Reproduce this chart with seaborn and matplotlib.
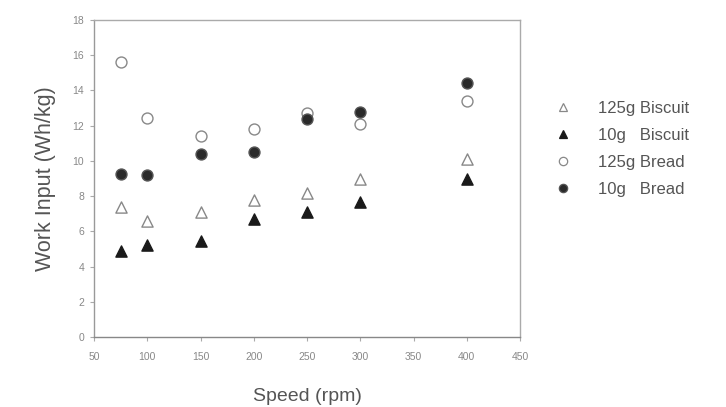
import matplotlib
matplotlib.use("Agg")
import matplotlib.pyplot as plt
import seaborn as sns
import pandas as pd
from matplotlib.lines import Line2D

speed = [75, 100, 150, 200, 250, 300, 400]
biscuit_125 = [7.4, 6.6, 7.1, 7.8, 8.2, 9.0, 10.1]
biscuit_10 = [4.9, 5.2, 5.45, 6.7, 7.1, 7.65, 9.0]
bread_125 = [15.6, 12.45, 11.4, 11.8, 12.7, 12.1, 13.4]
bread_10 = [9.25, 9.2, 10.4, 10.5, 12.4, 12.8, 14.4]
series_names = ["125g Biscuit", "10g   Biscuit", "125g Bread", "10g   Bread"]
x_ticks = [50, 100, 150, 200, 250, 300, 350, 400, 450]
y_ticks = [0, 2, 4, 6, 8, 10, 12, 14, 16, 18]

sns.set_theme(style="white")
plt.rcParams['font.family'] = ['Liberation Sans', 'DejaVu Sans']

fig = plt.figure(figsize=(7.26, 4.07), dpi=100)
ax = fig.add_axes([94/726, 70/407, 426/726, 317/407])

styles = [
    dict(marker="^", facecolor="white", edgecolor="#888888", s=65),
    dict(marker="^", facecolor="#1a1a1a", edgecolor="#1a1a1a", s=65),
    dict(marker="o", facecolor="white", edgecolor="#888888", s=62),
    dict(marker="o", facecolor="#2a2a2a", edgecolor="#555555", s=62),
]
values = [biscuit_125, biscuit_10, bread_125, bread_10]

handles = []
for name, vals, st in zip(series_names, values, styles):
    df = pd.DataFrame({"speed": speed, "work": vals})
    sns.scatterplot(data=df, x="speed", y="work", ax=ax, marker=st["marker"],
                    s=st["s"], facecolor=st["facecolor"], edgecolor=st["edgecolor"],
                    linewidth=1.0, zorder=3)
    handles.append(Line2D([], [], linestyle="none", marker=st["marker"],
                          markersize=5.5 if st["marker"] == "^" else 6,
                          markerfacecolor=st["facecolor"], markeredgecolor=st["edgecolor"],
                          markeredgewidth=0.9, label=name))

ax.set_xlim(50, 450)
ax.set_ylim(0, 18)
ax.set_xticks(x_ticks)
ax.set_yticks(y_ticks)
ax.tick_params(axis="both", labelsize=7.5, labelcolor="#888888", colors="#aaaaaa",
               length=3, width=0.8, direction="out", bottom=True, left=True)
ax.tick_params(axis="x", pad=8)
ax.tick_params(axis="y", pad=4)
for sp in ax.spines.values():
    sp.set_color("#aaaaaa")
    sp.set_linewidth(1.0)
ax.spines["bottom"].set_color("#888888")
ax.spines["left"].set_color("#999999")

ax.set_xlabel("Speed (rpm)", fontsize=14, color="#555555")
ax.xaxis.set_label_coords(0.5, -0.16)
ax.set_ylabel("Work Input (Wh/kg)", fontsize=15.5, color="#555555", labelpad=12)

fig.legend(handles=handles, loc="upper left", bbox_to_anchor=(540/726, 1 - 86/407),
           frameon=False, fontsize=12, labelcolor="#555555", handletextpad=1.55,
           labelspacing=0.72, handlelength=1.0)

fig.savefig("out.png", dpi=100, facecolor="white")
